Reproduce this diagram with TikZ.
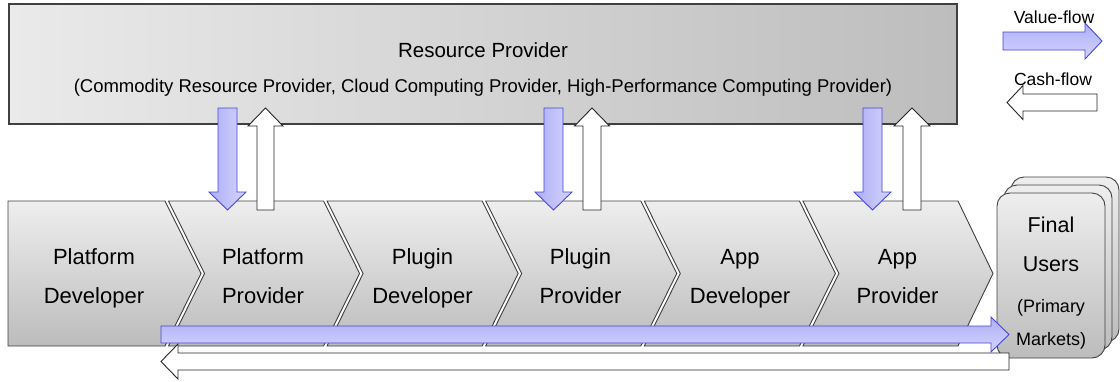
\documentclass[tikz,border=0pt]{standalone}
\usepackage{fontspec}
\setmainfont{Liberation Sans}
\definecolor{edge}{HTML}{404040}
\definecolor{gtop}{HTML}{EEEEEE}
\definecolor{gbot}{HTML}{BCBCBC}
\definecolor{boxL}{HTML}{EAEAEA}
\definecolor{boxR}{HTML}{BDBDBD}
\definecolor{blueA}{HTML}{AEAEF6}
\definecolor{blueB}{HTML}{D4D4FF}
\definecolor{blueedge}{HTML}{4646DC}
% vertical block arrow: #1 style, #2 cx, #3 tail y, #4 head base y, #5 tip y, #6 half shaft, #7 half head
\newcommand\myVArrow[7]{%
  \path[#1] (#2-#6,#3) -- (#2+#6,#3) -- (#2+#6,#4) -- (#2+#7,#4) -- (#2,#5)
    -- (#2-#7,#4) -- (#2-#6,#4) -- cycle;}
% horizontal block arrow: #1 style, #2 cy, #3 tail x, #4 head base x, #5 tip x, #6 half shaft, #7 half head
\newcommand\myHArrow[7]{%
  \path[#1] (#3,#2-#6) -- (#4,#2-#6) -- (#4,#2-#7) -- (#5,#2) -- (#4,#2+#7)
    -- (#4,#2+#6) -- (#3,#2+#6) -- cycle;}
\begin{document}
\begin{tikzpicture}[x=1pt,y=-1pt,
  chev/.style={draw=edge, line width=0.9pt, top color=gtop, bottom color=gbot, line join=miter},
  users/.style={draw=edge, line width=0.9pt, top color=gtop, bottom color=gbot, rounded corners=13pt},
  vblue/.style={draw=blueedge, line width=0.9pt, left color=blueA, right color=blueB, line join=miter},
  hblue/.style={draw=blueedge, line width=0.9pt, top color=blueA, bottom color=blueB, line join=miter},
  cash/.style={draw=black!85, line width=0.9pt, fill=white, line join=miter},
  chevtext/.style={anchor=base, inner sep=0pt, font=\fontsize{22}{26}\selectfont},
  usertext/.style={anchor=base, inner sep=0pt, font=\fontsize{21.5}{26}\selectfont},
  usersmall/.style={anchor=base, inner sep=0pt, font=\fontsize{18}{22}\selectfont},
  legtext/.style={anchor=base, inner sep=0pt, font=\fontsize{17.5}{21}\selectfont}]
\useasboundingbox (0,0) rectangle (1120,381);

% Resource provider box
\path[draw=edge, line width=1.1pt, left color=boxL, right color=boxR] (9,4) rectangle (957,124);
\node[anchor=base, inner sep=0pt, font=\fontsize{20.5}{24}\selectfont] (rp) at (483,57) {Resource Provider};
\node[anchor=base, inner sep=0pt, font=\fontsize{18.5}{22}\selectfont] (rpsub) at (483,92)
  {(Commodity Resource Provider, Cloud Computing Provider, High-Performance Computing Provider)};

% Legend
\node[legtext] (lv) at (1054,23) {Value-flow};
\myHArrow{hblue}{41}{1003}{1085}{1102}{9}{18}
\node[legtext] (lc) at (1053,85) {Cash-flow};
\myHArrow{cash}{102.5}{1097}{1023}{1007}{8.5}{17}

% Chevrons
\path[chev] (8,201) -- (165,201) -- (201,273.5) -- (165,346) -- (8,346) -- cycle;
\path[chev] (168.5,201) -- (323.6,201) -- (359.6,273.5) -- (323.6,346) -- (168.5,346) -- (204.5,273.5) -- cycle;
\path[chev] (327.1,201) -- (482.2,201) -- (518.2,273.5) -- (482.2,346) -- (327.1,346) -- (363.1,273.5) -- cycle;
\path[chev] (485.7,201) -- (640.8,201) -- (676.8,273.5) -- (640.8,346) -- (485.7,346) -- (521.7,273.5) -- cycle;
\path[chev] (644.3,201) -- (799.4,201) -- (835.4,273.5) -- (799.4,346) -- (644.3,346) -- (680.3,273.5) -- cycle;
\path[chev] (802.9,201) -- (958,201) -- (993,273.5) -- (958,346) -- (802.9,346) -- (838.9,273.5) -- cycle;

\node[chevtext] (pd1) at (94,264) {Platform};
\node[chevtext] (pd2) at (94,303) {Developer};
\node[chevtext] (pp1) at (263,264) {Platform};
\node[chevtext] (pp2) at (263,303) {Provider};
\node[chevtext] (gd1) at (422.5,264) {Plugin};
\node[chevtext] (gd2) at (422.5,303) {Developer};
\node[chevtext] (gp1) at (580.5,264) {Plugin};
\node[chevtext] (gp2) at (580.5,303) {Provider};
\node[chevtext] (ad1) at (740,264) {App};
\node[chevtext] (ad2) at (740,303) {Developer};
\node[chevtext] (ap1) at (897.5,264) {App};
\node[chevtext] (ap2) at (897.5,303) {Provider};

% Final users stack
\path[users] (1011,177) rectangle (1119,342);
\path[users] (1004,185) rectangle (1112,350);
\path[users] (997,193) rectangle (1105,358);
\node[usertext] (fu1) at (1051,232) {Final};
\node[usertext] (fu2) at (1051,271) {Users};
\node[usersmall] (fu3) at (1051,312) {(Primary};
\node[usersmall] (fu4) at (1051,345) {Markets)};

% Vertical arrows
\myVArrow{vblue}{227.5}{108}{192}{210}{9.5}{18.5}
\myVArrow{cash}{265.5}{210}{126}{108}{8.5}{17.5}
\myVArrow{vblue}{553.5}{108}{192}{210}{9.5}{18.5}
\myVArrow{cash}{592}{210}{126}{108}{9}{17.5}
\myVArrow{vblue}{872.5}{108}{192}{210}{9.5}{18.5}
\myVArrow{cash}{912}{210}{126}{108}{9}{18}

% Bottom flows
\myHArrow{cash}{361.5}{1009}{178}{161}{8.5}{17.5}
\myHArrow{hblue}{334.5}{161}{991}{1009}{8.5}{17.5}
\end{tikzpicture}
\end{document}
